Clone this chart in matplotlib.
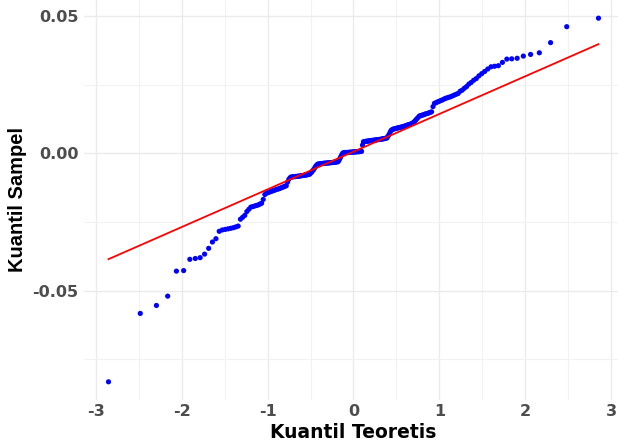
import matplotlib
matplotlib.use("Agg")
import matplotlib.pyplot as plt
from matplotlib.ticker import MultipleLocator, FixedLocator
import numpy as np
from statistics import NormalDist

# Sorted sample values
sample_values = [
    -0.0832, -0.0583, -0.0554, -0.0520, -0.0429, -0.0427, -0.0386, -0.0383, -0.0380, -0.0367,
    -0.0346, -0.0323, -0.0311, -0.0284,
    -0.0279, -0.0277, -0.0275, -0.0273, -0.0271, -0.0268, -0.0265,
    -0.0240, -0.0233, -0.0226, -0.0212, -0.0204,
    -0.0196, -0.0194, -0.0192, -0.0190, -0.0188, -0.0185, -0.0182,
    -0.0168, -0.0150,
    -0.0145, -0.0143, -0.0141, -0.0139, -0.0137, -0.0135, -0.0133, -0.0131, -0.0130, -0.0128,
    -0.0126, -0.0124, -0.0122, -0.0120, -0.0118,
    -0.0105, -0.0095, -0.0089,
    -0.0086, -0.0086, -0.0085, -0.0085, -0.0084, -0.0084, -0.0083, -0.0083, -0.0082, -0.0081,
    -0.0081, -0.0080, -0.0079, -0.0079, -0.0078, -0.0077, -0.0076,
    -0.0072, -0.0068, -0.0063, -0.0058, -0.0052, -0.0046, -0.0042,
    -0.0039, -0.0039, -0.0038, -0.0038, -0.0037, -0.0037, -0.0036, -0.0036, -0.0036, -0.0035,
    -0.0035, -0.0035, -0.0034, -0.0034, -0.0034, -0.0033, -0.0033, -0.0032, -0.0032, -0.0031,
    -0.0031,
    -0.0027, -0.0020, -0.0013, -0.0006, 0.0000,
    0.0002, 0.0002, 0.0003, 0.0003, 0.0003, 0.0003, 0.0004, 0.0004, 0.0004, 0.0004,
    0.0005, 0.0005, 0.0005, 0.0005, 0.0006, 0.0006, 0.0006, 0.0006, 0.0007, 0.0007,
    0.0030, 0.0042,
    0.0043, 0.0043, 0.0044, 0.0044, 0.0045, 0.0045, 0.0046, 0.0046, 0.0047, 0.0047,
    0.0048, 0.0048, 0.0049, 0.0049, 0.0050, 0.0050, 0.0051, 0.0051, 0.0052, 0.0053,
    0.0053, 0.0054, 0.0055, 0.0056,
    0.0062, 0.0068, 0.0076, 0.0083, 0.0086,
    0.0088, 0.0089, 0.0090, 0.0091, 0.0092, 0.0093, 0.0094, 0.0095, 0.0096, 0.0097,
    0.0098, 0.0100, 0.0101, 0.0103,
    0.0104, 0.0105, 0.0107, 0.0109,
    0.0112, 0.0116, 0.0121, 0.0126, 0.0131,
    0.0136, 0.0137, 0.0139, 0.0140, 0.0142, 0.0144, 0.0145, 0.0147, 0.0149, 0.0151,
    0.0170,
    0.0182, 0.0184, 0.0187, 0.0189, 0.0192, 0.0194,
    0.0197, 0.0200, 0.0202, 0.0204, 0.0206, 0.0209, 0.0212, 0.0215, 0.0218,
    0.0226, 0.0230, 0.0237, 0.0243, 0.0252, 0.0258, 0.0266, 0.0272, 0.0282, 0.0290,
    0.0298, 0.0307, 0.0315, 0.0317, 0.0319, 0.0331, 0.0343, 0.0344, 0.0346, 0.0354,
    0.0360, 0.0366, 0.0403, 0.0461, 0.0492,
]

# Reference line (qq line)
line_slope = 0.01374
line_intercept = 0.0006

x_ticks = [-3, -2, -1, 0, 1, 2, 3]
x_tick_labels = ["-3", "-2", "-1", "0", "1", "2", "3"]
y_ticks = [-0.05, 0.00, 0.05]
y_tick_labels = ["-0.05", "0.00", "0.05"]

x_title = "Kuantil Teoretis"
y_title = "Kuantil Sampel"

# Theoretical quantiles as stat_qq computes them (ppoints)
y = np.sort(np.array(sample_values))
n = len(y)
nd = NormalDist()
theo = np.array([nd.inv_cdf((i - 0.5) / n) for i in range(1, n + 1)])

plt.rcParams['font.family'] = ['DejaVu Sans']

fig = plt.figure(figsize=(6.18, 4.45), dpi=100)
fig.patch.set_facecolor('white')
ax = fig.add_axes([84 / 618, 45 / 445, 539 / 618, 400 / 445])
ax.set_facecolor('white')

xr = theo.max() - theo.min()
yr = y.max() - y.min()
ax.set_xlim(theo.min() - 0.05 * xr, theo.max() + 0.05 * xr)
ax.set_ylim(y.min() - 0.05 * yr, y.max() + 0.05 * yr)

# grid
ax.xaxis.set_major_locator(FixedLocator(x_ticks))
ax.yaxis.set_major_locator(FixedLocator(y_ticks))
ax.xaxis.set_minor_locator(MultipleLocator(0.5))
ax.yaxis.set_minor_locator(MultipleLocator(0.025))
ax.grid(True, which='major', color='#EBEBEB', linewidth=1.0, zorder=0)
ax.grid(True, which='minor', color='#F2F2F2', linewidth=0.8, zorder=0)
ax.set_axisbelow(True)

ax.scatter(theo, y, s=14, color='blue', edgecolors='none', zorder=3)
lx = np.array([theo.min(), theo.max()])
ax.plot(lx, line_intercept + line_slope * lx, color='red', linewidth=1.3, zorder=4)

for s in ax.spines.values():
    s.set_visible(False)

ax.set_xticks(x_ticks)
ax.set_xticklabels(x_tick_labels)
ax.set_yticks(y_ticks)
ax.set_yticklabels(y_tick_labels)
ax.tick_params(which='both', length=0)
ax.tick_params(axis='x', pad=3, labelsize=11.5, labelcolor='#4D4D4D')
ax.tick_params(axis='y', pad=4, labelsize=11.5, labelcolor='#4D4D4D')
for lab in ax.get_xticklabels() + ax.get_yticklabels():
    lab.set_fontweight('bold')

ax.set_xlabel(x_title, fontsize=13.5, fontweight='bold', color='black')
ax.set_ylabel(y_title, fontsize=14.5, fontweight='bold', color='black',
              family=['Liberation Sans', 'DejaVu Sans'])
ax.xaxis.label.set_va('center')
ax.yaxis.label.set_va('center')
ax.xaxis.set_label_coords(0.5, -0.08)
ax.yaxis.set_label_coords((18 - 84) / 539, 0.5)

fig.savefig('out.png', dpi=100, facecolor='white')
